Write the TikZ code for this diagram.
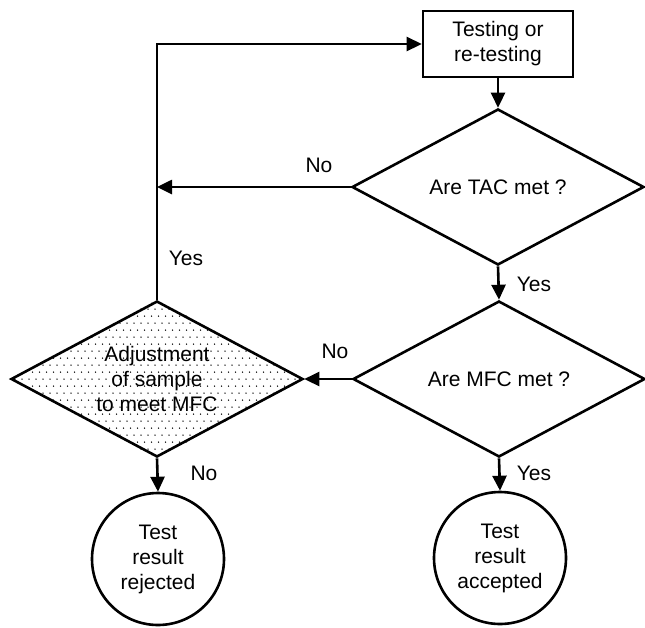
\documentclass[tikz,border=0pt]{standalone}
\usepackage{fontspec}
\setmainfont{Liberation Sans}
\usetikzlibrary{arrows.meta,shapes.geometric,backgrounds}
\begin{document}
\begin{tikzpicture}[x=1pt,y=-1pt,
  line width=2.6pt,
  every node/.style={font=\fontsize{21}{25}\selectfont, align=center},
  flow/.style={-{Triangle[length=15pt,width=14pt]}},
  procbox/.style={draw, rectangle, minimum width=150pt, minimum height=66pt, inner sep=0pt},
  decision/.style={draw, diamond, aspect=1.87, minimum width=292pt, minimum height=156pt, inner sep=0pt},
  outcome/.style={draw, circle, minimum size=132pt, inner sep=0pt},
  lbl/.style={inner sep=0pt}]
\useasboundingbox (0,0) rectangle (645,627);

% process box and decisions
\node[procbox]  (box) at (498,44)  {Testing or\\re-testing};
\node[decision] (tac) at (498,187) {Are TAC met ?};
\node[decision] (mfc) at (499,379) {Are MFC met ?};
\node[decision] (adj) at (157,379) {Adjustment\\of sample\\to meet MFC};

% stippled fill of the adjustment diamond
\begin{scope}[on background layer]
  \clip (adj.north) -- (adj.east) -- (adj.south) -- (adj.west) -- cycle;
  \foreach \y [count=\i] in {302,309,...,460}{
    \pgfmathsetmacro\xo{mod(\i,2)*3.5}
    \foreach \x in {8,15,...,310}{
      \fill (\x+\xo,\y) circle (0.75pt);
    }
  }
\end{scope}

% outcomes
\node[outcome] (rej) at (158,559) {Test\\result\\rejected};
\node[outcome] (acc) at (500,558) {Test\\result\\accepted};

% connectors
\coordinate (join) at (adj.north |- tac.west);
\draw[flow] (box.south) -- (tac.north);
\draw[flow] (tac.west) -- (join);
\draw[flow] (adj.north) |- (box.west);
\draw[flow] (tac.south) -- (mfc.north);
\draw[flow] (mfc.west) -- (adj.east);
\draw[flow] (adj.south) -- (rej.north);
\draw[flow] (mfc.south) -- (acc.north);

% branch labels
\node[lbl] (noTac)  at (319,165) {No};
\node[lbl] (yesLoop) at (186,258) {Yes};
\node[lbl] (yesTac) at (534,284) {Yes};
\node[lbl] (noMfc)  at (335,351) {No};
\node[lbl] (noAdj)  at (204,473) {No};
\node[lbl] (yesMfc) at (534,473) {Yes};
\end{tikzpicture}
\end{document}
